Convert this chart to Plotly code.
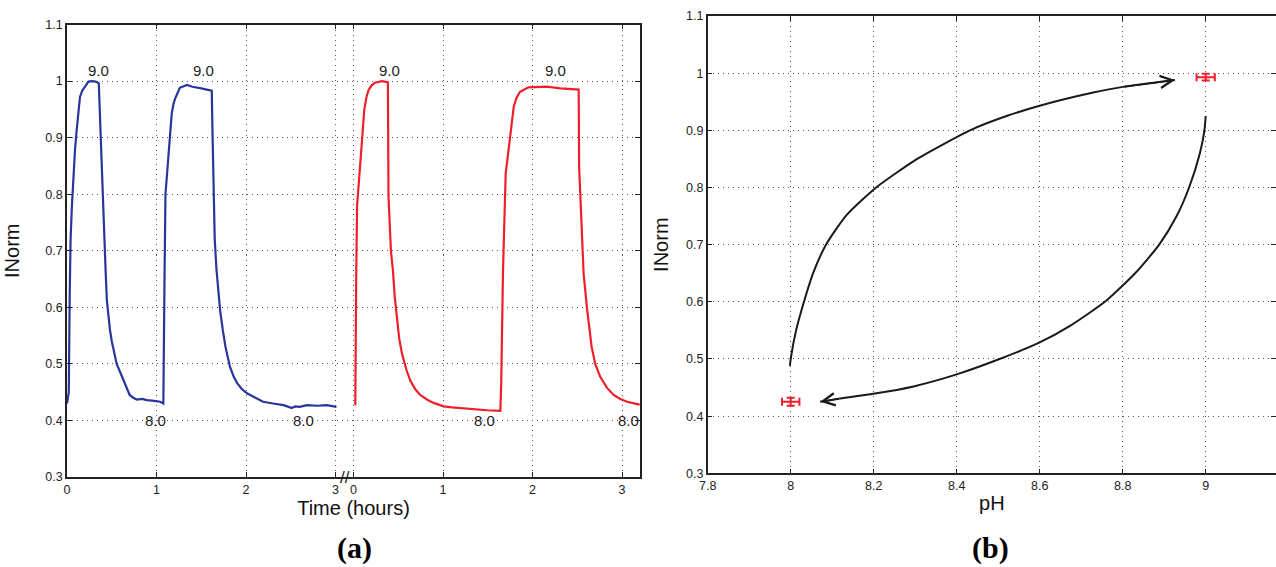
import plotly.graph_objects as go

# ---------------- data: panel (a) ----------------
blue_t = [0, 0.02, 0.03, 0.04, 0.055, 0.07, 0.09, 0.108, 0.125, 0.145, 0.17, 0.2, 0.24, 0.28, 0.32, 0.355,
          0.37, 0.39, 0.41, 0.43, 0.445, 0.46, 0.48, 0.5, 0.52, 0.555, 0.6, 0.63, 0.67, 0.70, 0.74, 0.78, 0.84, 0.89,
          0.95, 1.0, 1.04, 1.076, 1.08, 1.09, 1.10, 1.115, 1.13, 1.148, 1.17, 1.19, 1.21, 1.26, 1.30, 1.34,
          1.40, 1.45, 1.5, 1.56, 1.617, 1.625, 1.64, 1.65, 1.67, 1.69, 1.71, 1.74, 1.77, 1.82, 1.86, 1.9,
          1.95, 2.01, 2.1, 2.19, 2.3, 2.42, 2.51, 2.55, 2.6, 2.68, 2.8, 2.9, 3.01]
blue_v = [0.43, 0.45, 0.62, 0.72, 0.78, 0.83, 0.88, 0.913, 0.945, 0.972, 0.983, 0.99, 0.999, 1.0, 0.999, 0.996,
          0.925, 0.84, 0.77, 0.67, 0.613, 0.585, 0.56, 0.54, 0.525, 0.50, 0.483, 0.471, 0.455, 0.445, 0.44, 0.437, 0.438, 0.436,
          0.435, 0.434, 0.433, 0.43, 0.56, 0.665, 0.80, 0.83, 0.849, 0.887, 0.943, 0.96, 0.97, 0.988, 0.991, 0.993,
          0.99, 0.989, 0.987, 0.985, 0.983, 0.91, 0.80, 0.72, 0.666, 0.625, 0.595, 0.56, 0.53, 0.495, 0.478, 0.466,
          0.456, 0.448, 0.44, 0.433, 0.43, 0.427, 0.422, 0.425, 0.424, 0.427, 0.426, 0.427, 0.424]

red_t = [0.02, 0.025, 0.03, 0.04, 0.067, 0.093, 0.12, 0.145, 0.168, 0.2, 0.24, 0.317, 0.384, 0.391, 0.418,
         0.44, 0.46, 0.485, 0.51, 0.54, 0.59, 0.633, 0.69, 0.745, 0.82, 0.894, 1.006, 1.1, 1.23, 1.35, 1.49, 1.64, 1.65,
         1.67, 1.676, 1.70, 1.75, 1.79, 1.82, 1.86, 1.955, 2.05, 2.16, 2.31, 2.4, 2.515, 2.52, 2.55, 2.57,
         2.61, 2.66, 2.7, 2.756, 2.83, 2.905, 2.98, 3.055, 3.196]
red_v = [0.427, 0.6, 0.65, 0.78, 0.846, 0.891, 0.949, 0.972, 0.984, 0.992, 0.997, 1.0, 0.998, 0.795, 0.70,
         0.666, 0.62, 0.578, 0.545, 0.519, 0.49, 0.471, 0.455, 0.445, 0.437, 0.431, 0.425, 0.423, 0.421, 0.419, 0.418, 0.417, 0.466,
         0.666, 0.70, 0.837, 0.902, 0.955, 0.97, 0.981, 0.989, 0.99, 0.99, 0.987, 0.986, 0.985, 0.849, 0.75, 0.66,
         0.595, 0.53, 0.5, 0.477, 0.458, 0.445, 0.438, 0.433, 0.428]

red_offset = 3.2  # second time axis starts after the break
time_tickvals = [0, 1, 2, 3, 3.2, 4.2, 5.2, 6.2]
time_ticktext = ["0", "1", "2", "3", "0", "1", "2", "3"]

label_t = [0.353, 1.53, 3.599, 5.457, 0.983, 2.64, 4.66, 6.27]
label_v = [1.018, 1.018, 1.018, 1.018, 0.40, 0.40, 0.40, 0.40]
label_txt = ["9.0", "9.0", "9.0", "9.0", "8.0", "8.0", "8.0", "8.0"]

# ---------------- data: panel (b) ----------------
up_ph = [7.998, 8.0, 8.013, 8.032, 8.054, 8.085, 8.135, 8.206, 8.305, 8.432, 8.52, 8.6, 8.729, 8.8, 8.926]
up_v = [0.488, 0.5, 0.55, 0.6, 0.65, 0.7, 0.752, 0.8, 0.85, 0.9, 0.925, 0.943, 0.966, 0.976, 0.988]

lo_ph = [9.0, 8.997, 8.986, 8.96, 8.93, 8.888, 8.83, 8.757, 8.673, 8.6, 8.5, 8.4, 8.296, 8.199, 8.119, 8.071]
lo_v = [0.925, 0.9, 0.86, 0.8, 0.75, 0.7, 0.65, 0.6, 0.558, 0.529, 0.499, 0.473, 0.452, 0.439, 0.431, 0.425]

pt_ph = [8.0, 9.0]
pt_v = [0.425, 0.993]
pt_xerr = [0.021, 0.022]
pt_yerr = [0.007, 0.006]

# ---------------- styles ----------------
BLUE = "#27369b"
RED = "#ee1f2b"
FONT = "Liberation Sans, Arial, sans-serif"
W, H = 1276, 567

fig = go.Figure()

fig.add_trace(go.Scatter(x=blue_t, y=blue_v, mode="lines", line=dict(color=BLUE, width=2.2),
                         xaxis="x", yaxis="y", showlegend=False))
fig.add_trace(go.Scatter(x=[t + red_offset for t in red_t], y=red_v, mode="lines",
                         line=dict(color=RED, width=2.2), xaxis="x", yaxis="y", showlegend=False))

fig.add_trace(go.Scatter(x=up_ph, y=up_v, mode="lines", line=dict(color="#1a1a1a", width=2, shape="spline", smoothing=0.6),
                         xaxis="x2", yaxis="y2", showlegend=False))
fig.add_trace(go.Scatter(x=lo_ph, y=lo_v, mode="lines", line=dict(color="#1a1a1a", width=2, shape="spline", smoothing=0.6),
                         xaxis="x2", yaxis="y2", showlegend=False))
fig.add_trace(go.Scatter(x=pt_ph, y=pt_v, mode="markers", marker=dict(size=1, color=RED),
                         error_x=dict(type="data", array=pt_xerr, color=RED, thickness=2, width=4),
                         error_y=dict(type="data", array=pt_yerr, color=RED, thickness=2, width=4),
                         xaxis="x2", yaxis="y2", showlegend=False))

grid = dict(showgrid=True, gridcolor="#555", gridwidth=1, griddash="1px,4px", showline=True,
            linecolor="#222", linewidth=1.5, mirror="ticks", ticks="inside", ticklen=5,
            tickcolor="#222", zeroline=False, automargin=False,
            tickfont=dict(family=FONT, size=12.5, color="#222"))

TITLE_FONT = dict(size=20, family=FONT, color="#111")

fig.update_layout(
    width=W, height=H, margin=dict(l=0, r=0, t=0, b=0, autoexpand=False),
    paper_bgcolor="white", plot_bgcolor="white", showlegend=False,
    font=dict(family=FONT, color="#222"),
    xaxis=dict(domain=[67 / W, 640 / W], range=[0, 6.4], tickvals=time_tickvals, ticktext=time_ticktext,
               title=dict(text="Time (hours)", font=TITLE_FONT, standoff=4),
               anchor="y", **grid),
    yaxis=dict(domain=[1 - 477 / H, 1 - 24.5 / H], range=[0.3, 1.1], dtick=0.1, tick0=0.3,
               title=dict(text="INorm", font=TITLE_FONT, standoff=20),
               anchor="x", **grid),
    xaxis2=dict(domain=[707.7 / W, 1.0], range=[7.8, 9.1694], dtick=0.2, tick0=7.8,
                title=dict(text="pH", font=TITLE_FONT, standoff=4),
                anchor="y2", **grid),
    yaxis2=dict(domain=[1 - 473.3 / H, 1 - 16 / H], range=[0.3, 1.1], dtick=0.1, tick0=0.3,
                title=dict(text="INorm", font=TITLE_FONT, standoff=12),
                anchor="x2", **grid),
)

ann = []
for t, v, s in zip(label_t, label_v, label_txt):
    ann.append(dict(x=t, y=v, xref="x", yref="y", text=s, showarrow=False,
                    font=dict(size=15, family=FONT, color="#222"), xanchor="center", yanchor="middle"))
# axis break mark
ann.append(dict(x=3.1, y=0.3, xref="x", yref="y", text="//", showarrow=False,
                font=dict(size=17, family=FONT, color="#222"), xanchor="center", yanchor="middle"))
# arrows at the ends of the curves
ann.append(dict(x=up_ph[-1], y=up_v[-1], ax=up_ph[-2], ay=up_v[-2], xref="x2", yref="y2",
                axref="x2", ayref="y2", text="", showarrow=True, arrowhead=5, arrowsize=1.6,
                arrowwidth=1.5, arrowcolor="#1a1a1a", standoff=0))
ann.append(dict(x=lo_ph[-1], y=lo_v[-1], ax=lo_ph[-2], ay=lo_v[-2], xref="x2", yref="y2",
                axref="x2", ayref="y2", text="", showarrow=True, arrowhead=5, arrowsize=1.6,
                arrowwidth=1.5, arrowcolor="#1a1a1a", standoff=0))
# panel labels
LABEL_FONT = dict(size=30, family="Liberation Serif, Times New Roman, serif", color="black")
ann.append(dict(x=354 / W, y=1 - 548 / H, xref="paper", yref="paper", text="<b>(a)</b>", showarrow=False,
                font=LABEL_FONT, xanchor="center", yanchor="middle"))
ann.append(dict(x=990 / W, y=1 - 548 / H, xref="paper", yref="paper", text="<b>(b)</b>", showarrow=False,
                font=LABEL_FONT, xanchor="center", yanchor="middle"))
fig.update_layout(annotations=ann)

fig.write_html("out.html")
